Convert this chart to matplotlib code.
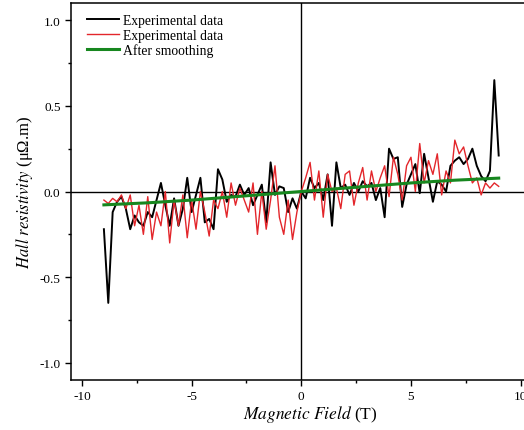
import numpy as np
import matplotlib.pyplot as plt
from matplotlib.ticker import MultipleLocator

# field sweep (T)
field = np.round(np.linspace(-9.0, 9.0, 91), 1)

# Hall resistivity (uOhm.m)
hall_black = [
    -0.22, -0.65, -0.12, -0.06, -0.03, -0.10, -0.22, -0.14, -0.18, -0.20,
    -0.12, -0.15, -0.05, 0.05, -0.08, -0.20, -0.04, -0.20, -0.10, 0.08,
    -0.12, -0.02, 0.08, -0.18, -0.16, -0.22, 0.13, 0.07, -0.06, -0.02,
    -0.03, 0.04, -0.02, 0.02, -0.08, -0.02, 0.04, -0.18, 0.17, -0.02,
    0.03, 0.02, -0.12, -0.04, -0.10,
    0.00, -0.04, 0.08, 0.02, 0.05, -0.05, 0.10, -0.20, 0.17, 0.02,
    0.04, -0.02, 0.05, 0.00, 0.06, 0.03, 0.05, -0.05, 0.02, -0.15,
    0.25, 0.19, 0.20, -0.09, 0.04, 0.10, 0.16, -0.01, 0.22, 0.08,
    -0.06, 0.06, 0.04, 0.00, 0.15, 0.18, 0.20, 0.16, 0.19, 0.25,
    0.15, 0.09, 0.06, 0.12, 0.65, 0.21,
]
hall_red = [
    -0.05, -0.07, -0.04, -0.06, -0.02, -0.10, -0.02, -0.20, -0.08, -0.25,
    -0.03, -0.28, -0.12, -0.20, 0.00, -0.30, -0.05, -0.20, -0.02, -0.27,
    -0.05, -0.22, 0.00, -0.12, -0.26, -0.05, -0.10, 0.00, -0.15, 0.05,
    -0.08, 0.02, -0.05, -0.12, 0.05, -0.25, 0.00, -0.22, -0.05, 0.15,
    -0.15, -0.25, -0.05, -0.28, -0.12,
    0.00, 0.08, 0.17, -0.05, 0.12, -0.15, 0.10, 0.00, 0.02, -0.10,
    0.10, 0.12, -0.08, 0.05, 0.14, -0.05, 0.12, 0.00, 0.08, 0.15,
    -0.03, 0.20, 0.10, -0.05, 0.15, 0.20, 0.00, 0.28, 0.05, 0.18,
    0.10, 0.22, -0.02, 0.12, 0.05, 0.30, 0.22, 0.26, 0.15, 0.05,
    0.08, -0.02, 0.05, 0.02, 0.05, 0.03,
]

# smoothed curve
smooth_field = [-9, -8, -7, -6, -5, -4, -3, -2, -1, 0, 1, 2, 3, 4, 5, 6, 7, 8, 9]
smooth_hall = [-0.078, -0.072, -0.066, -0.058, -0.05, -0.04, -0.03, -0.02, -0.01, 0.0,
               0.01, 0.02, 0.03, 0.04, 0.05, 0.058, 0.066, 0.072, 0.078]

plt.rcParams['font.family'] = ['Liberation Serif', 'DejaVu Serif']
plt.rcParams['mathtext.fontset'] = 'stix'
plt.rcParams['axes.unicode_minus'] = False

fig = plt.figure(figsize=(5.24, 4.31), dpi=100)
ax = fig.add_axes([0.1355, 0.116, 0.879, 0.8747])

ax.axhline(0, color='black', lw=1.0, zorder=1)
ax.axvline(0, color='black', lw=1.0, zorder=1)

ax.plot(field, hall_black, color='black', lw=1.4, label='Experimental data', zorder=2)
ax.plot(field, hall_red, color='#e3262b', lw=1.0, label='Experimental data', zorder=3)
ax.plot(smooth_field, smooth_hall, color='#17871f', lw=2.2, label='After smoothing', zorder=4)

ax.set_xlim(-10.5, 10.5)
ax.set_ylim(-1.1, 1.1)
ax.xaxis.set_major_locator(MultipleLocator(5))
ax.xaxis.set_minor_locator(MultipleLocator(2.5))
ax.yaxis.set_major_locator(MultipleLocator(0.5))
ax.yaxis.set_minor_locator(MultipleLocator(0.25))
ax.tick_params(which='both', direction='out', labelsize=9.5, width=1.0)
ax.tick_params(which='major', length=4)
ax.tick_params(which='minor', length=2.5)
for s in ax.spines.values():
    s.set_linewidth(1.1)

ax.set_xlabel(r'$\it{Magnetic\ Field}$ (T)', fontsize=12.5, labelpad=1)
ax.xaxis.set_label_coords(0.52, -0.062)
ax.set_ylabel(r'$\it{Hall\ resistivity}$ (μΩ.m)', fontsize=12, labelpad=3)

ax.legend(loc='upper left', frameon=False, fontsize=9.8, handlelength=2.4,
          handletextpad=0.25, labelspacing=0.12, borderaxespad=0.0,
          bbox_to_anchor=(0.022, 0.985))

fig.savefig('out.png', dpi=100)
